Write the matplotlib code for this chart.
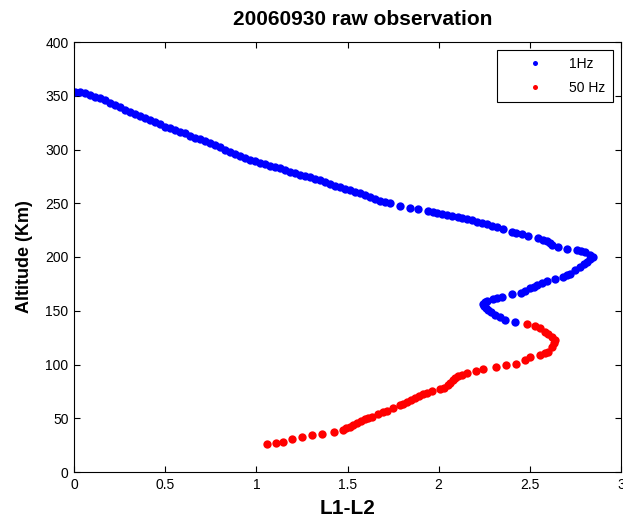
import matplotlib
matplotlib.use("Agg")
import matplotlib.pyplot as plt

plt.rcParams['font.family'] = ['Liberation Sans', 'DejaVu Sans']

# 1 Hz samples: L1-L2 and altitude (km)
x_1hz = [0.005, 0.033, 0.060, 0.088, 0.115, 0.143, 0.170, 0.197, 0.225, 0.252,
         0.280, 0.307, 0.335, 0.362, 0.389, 0.417, 0.444, 0.472, 0.499, 0.527,
         0.554, 0.581, 0.609, 0.636, 0.664, 0.691, 0.719, 0.746, 0.773, 0.801,
         0.828, 0.856, 0.883, 0.911, 0.938, 0.965, 0.993, 1.020, 1.048, 1.075,
         1.103, 1.130, 1.157, 1.185, 1.212, 1.240, 1.267, 1.295, 1.322, 1.349,
         1.377, 1.404, 1.432, 1.459, 1.487, 1.514, 1.541, 1.569, 1.596, 1.624,
         1.651, 1.679, 1.706, 1.733, 1.788, 1.843, 1.887, 1.942, 1.969, 1.991,
         2.019, 2.046, 2.073, 2.106, 2.128, 2.156, 2.183, 2.211, 2.238, 2.265,
         2.293, 2.320, 2.353, 2.403, 2.425, 2.458, 2.490, 2.545, 2.573, 2.595,
         2.611, 2.622, 2.655, 2.704, 2.759, 2.781, 2.803, 2.830, 2.847, 2.830,
         2.814, 2.797, 2.776, 2.748, 2.721, 2.704, 2.682, 2.638, 2.595, 2.567,
         2.540, 2.523, 2.501, 2.474, 2.452, 2.403, 2.348, 2.320, 2.298, 2.265,
         2.255, 2.244, 2.249, 2.260, 2.271, 2.287, 2.309, 2.337, 2.364, 2.419]
alt_1hz = [353.8, 353.2, 352.3, 350.7, 349.1, 347.6, 346.0, 343.7, 341.4, 339.1,
           336.7, 334.9, 332.7, 330.9, 329.0, 327.2, 325.3, 323.3, 321.2, 319.7,
           318.1, 316.6, 315.1, 313.0, 311.0, 309.5, 307.9, 306.0, 304.2, 302.0,
           300.0, 298.0, 295.8, 294.0, 292.1, 290.2, 289.0, 287.7, 286.2, 284.7,
           283.7, 282.5, 280.9, 279.3, 277.9, 276.3, 275.3, 274.1, 273.0, 271.6,
           269.8, 267.9, 266.5, 264.8, 263.7, 262.3, 260.9, 259.3, 257.7, 255.8,
           254.0, 252.1, 251.2, 249.8, 247.9, 245.6, 244.7, 242.8, 241.9, 240.9,
           240.0, 239.1, 238.1, 237.2, 236.3, 235.3, 234.0, 232.6, 231.6, 230.7,
           229.3, 227.9, 226.0, 223.3, 222.3, 221.4, 219.5, 217.7, 215.8, 214.9,
           213.0, 211.2, 209.3, 207.4, 206.5, 205.6, 204.7, 202.0, 200.0, 198.1,
           195.3, 193.5, 190.7, 187.9, 184.2, 183.3, 181.4, 179.5, 177.7, 175.8,
           174.0, 172.1, 171.2, 168.4, 166.5, 165.6, 162.8, 161.9, 160.9, 159.1,
           158.1, 156.3, 154.4, 152.6, 150.7, 148.8, 146.0, 144.2, 141.4, 139.5]

# 50 Hz samples
x_50hz = [2.485, 2.529, 2.556, 2.584, 2.600, 2.622, 2.638, 2.633, 2.622, 2.600,
          2.584, 2.556, 2.501, 2.474, 2.425, 2.370, 2.315, 2.244, 2.205, 2.156,
          2.128, 2.106, 2.090, 2.079, 2.063, 2.052, 2.030, 2.008, 1.964, 1.936,
          1.914, 1.892, 1.871, 1.849, 1.827, 1.805, 1.788, 1.750, 1.717, 1.695,
          1.668, 1.635, 1.613, 1.596, 1.574, 1.552, 1.530, 1.514, 1.492, 1.476,
          1.426, 1.360, 1.306, 1.251, 1.196, 1.146, 1.108, 1.059]
alt_50hz = [137.7, 135.8, 134.0, 130.2, 128.4, 125.6, 122.8, 120.0, 116.3, 111.6,
            110.7, 108.8, 107.0, 104.2, 100.5, 99.5, 97.7, 95.8, 94.0, 92.1,
            90.2, 89.3, 87.4, 85.6, 82.8, 80.9, 78.1, 77.2, 75.3, 73.5,
            72.6, 70.7, 68.8, 67.0, 65.1, 63.3, 62.3, 59.5, 56.7, 55.8,
            53.9, 51.2, 50.2, 49.3, 47.4, 45.6, 43.7, 41.9, 40.9, 39.1,
            37.2, 35.3, 34.4, 32.6, 30.7, 27.9, 27.0, 26.0]

fig = plt.figure(figsize=(6.23, 5.2), dpi=100)
ax = fig.add_axes([74 / 623, 48 / 520, 547 / 623, 430 / 520])

ax.plot(x_1hz, alt_1hz, 'o', color='#0000ff', markersize=6, markeredgewidth=0, label='1Hz')
ax.plot(x_50hz, alt_50hz, 'o', color='#ff0000', markersize=6, markeredgewidth=0, label='50 Hz')

ax.set_xlim(0, 3)
ax.set_ylim(0, 400)
ax.set_xticks([0, 0.5, 1, 1.5, 2, 2.5, 3])
ax.set_xticklabels(['0', '0.5', '1', '1.5', '2', '2.5', '3'])
ax.set_yticks(range(0, 401, 50))
ax.tick_params(direction='in', top=True, right=True, labelsize=10, length=4, pad=4)

ax.set_title('20060930 raw observation', fontsize=15, fontweight='bold', pad=12, x=0.528)
ax.set_xlabel('L1-L2', fontsize=15, fontweight='bold', labelpad=5)
ax.set_ylabel('Altitude (Km)', fontsize=13, fontweight='bold', labelpad=9)

leg = ax.legend(loc='upper right', fontsize=10, markerscale=0.6, fancybox=False,
                edgecolor='black', framealpha=1, borderaxespad=0.6,
                handlelength=4.4, handletextpad=0.3, borderpad=0.5, labelspacing=0.7)
leg.get_frame().set_linewidth(0.8)

fig.savefig('out.png', dpi=100)
